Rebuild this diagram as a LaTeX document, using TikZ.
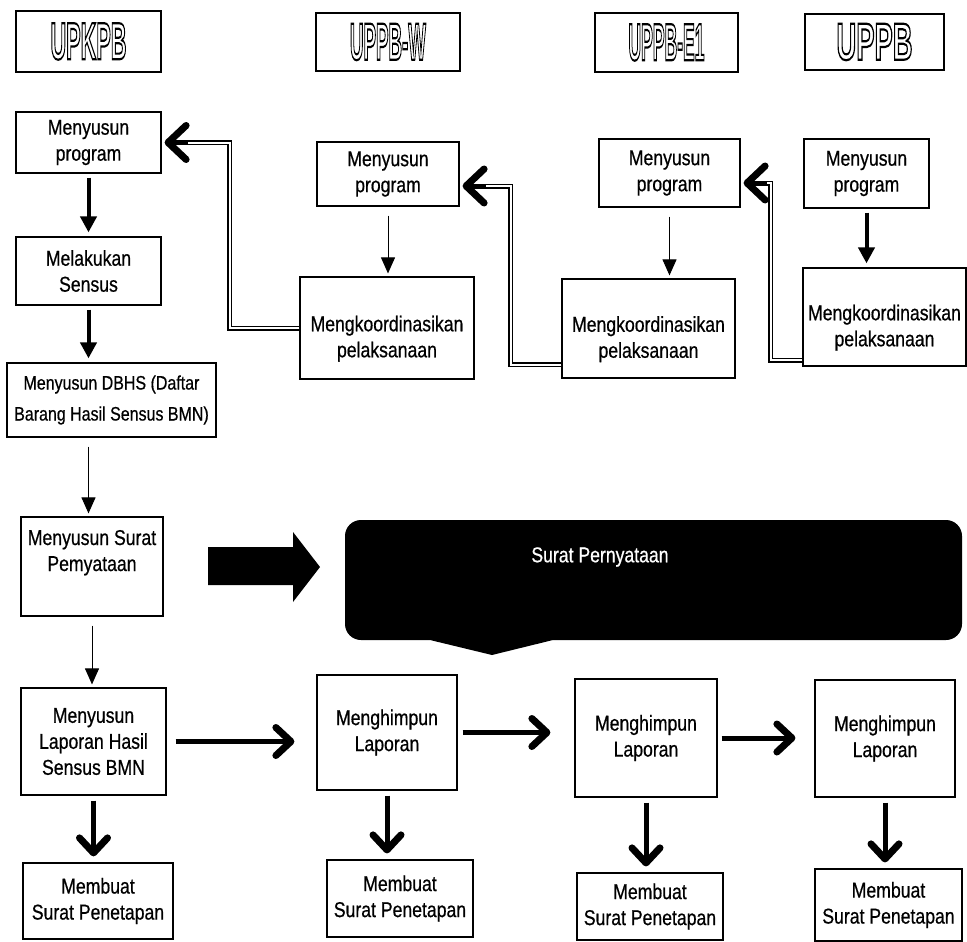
\documentclass[tikz,border=0pt]{standalone}
\usepackage{fontspec}
\setmainfont{Liberation Sans}[FakeStretch=0.82, FakeBold=0.6]
\newfontfamily\hdrfont{Liberation Sans}
\usetikzlibrary{arrows.meta}
% hollow (stroked) letters for the unit headers
\newcommand{\hollow}[1]{\special{pdf:literal 1 Tr 0.9 w}#1\special{pdf:literal 0 Tr}}
\newcommand{\unitname}[1]{\resizebox{76pt}{36pt}{\hdrfont\bfseries\hollow{#1}}}

\begin{document}
\begin{tikzpicture}[x=1pt,y=-1pt,
  box/.style={draw, line width=1.2pt, align=center, inner sep=0pt,
    font=\fontsize{21.5}{26}\selectfont},
  sz/.style 2 args={minimum width=#1pt, minimum height=#2pt},
  thin/.style={line width=1pt, -{Triangle[length=16pt,width=14pt]},
    shorten <=9pt, shorten >=3pt},
  fat/.style={line width=4pt, -{Triangle[length=16pt,width=16pt]},
    shorten <=4pt, shorten >=4pt},
  barb/.style={line width=5pt,
    -{Straight Barb[length=15pt,width=28pt,line width=7pt,round]},
    shorten <=5pt, shorten >=6pt},
  dbl/.style={double, line width=1.5pt, double distance=2pt},
  dblhead/.style={line width=5pt,
    -{Straight Barb[length=18pt,width=34pt,line width=7pt,round]}}]
\useasboundingbox (0,0) rectangle (967,942);

% unit headers
\node[box, sz={145}{61}] (hK) at (88.5,41.5) {\unitname{UPKPB}};
\node[box, sz={144}{58}] (hW) at (388,42) {\unitname{UPPB-W}};
\node[box, sz={143}{59}] (hE) at (666.5,42.5) {\unitname{UPPB-E1}};
\node[box, sz={139}{56}] (hU) at (874.5,42) {\unitname{UPPB}};

% UPKPB column
\node[box, sz={145}{61}] (pK) at (88.5,142.5) {Menyusun\\program};
\node[box, sz={145}{68}] (mS) at (88.5,271) {Melakukan\\Sensus};
\node[box, sz={209}{74}, font=\fontsize{19.5}{31}\selectfont] (dbhs) at (111.5,400)
  {Menyusun DBHS (Daftar\\Barang Hasil Sensus BMN)};
\node[box, sz={142}{99}] (sp) at (92,566.5)
  {Menyusun Surat\\Pemyataan\rule[-32pt]{0pt}{32pt}};
\node[box, sz={145}{107}] (lap) at (93.5,741.5) {Menyusun\\Laporan Hasil\\Sensus BMN};
\node[box, sz={150}{76}] (bK) at (98,901) {Membuat\\Surat Penetapan};

% UPPB-W column
\node[box, sz={142}{64}] (pW) at (388,174) {Menyusun\\program};
\node[box, sz={174}{102}] (mkW) at (387,328)
  {\rule{0pt}{37pt}Mengkoordinasikan\\pelaksanaan};
\node[box, sz={140}{115}] (hmW) at (387,732.5) {Menghimpun\\Laporan};
\node[box, sz={146}{77}] (bW) at (400,898.5) {Membuat\\Surat Penetapan};

% UPPB-E1 column
\node[box, sz={141}{68}] (pE) at (669.5,173) {Menyusun\\program};
\node[box, sz={173}{99}] (mkE) at (648.5,328.5)
  {\rule{0pt}{37pt}Mengkoordinasikan\\pelaksanaan};
\node[box, sz={142}{118}] (hmE) at (646,738) {Menghimpun\\Laporan};
\node[box, sz={146}{67}] (bE) at (650,906.5) {Membuat\\Surat Penetapan};

% UPPB column
\node[box, sz={125}{69}] (pU) at (866.5,173.5) {Menyusun\\program};
\node[box, sz={163}{98}] (mkU) at (884.5,317)
  {\rule{0pt}{37pt}Mengkoordinasikan\\pelaksanaan};
\node[box, sz={140}{117}] (hmU) at (885,738.5) {Menghimpun\\Laporan};
\node[box, sz={147}{72}] (bU) at (888.5,905) {Membuat\\Surat Penetapan};

% statement banner
\fill (430,640) [rounded corners=16pt] -- (345,640) -- (345,520) -- (962,520)
  -- (962,640) [sharp corners] -- (553,640) -- (492,655) -- cycle;
\node[text=white, font=\fontsize{21.5}{26}\selectfont] (callout) at (600,557) {Surat Pernyataan};
\fill (208,547) -- (293,547) -- (293,532) -- (320,567) -- (293,602) -- (293,585)
  -- (208,585) -- cycle;

% flow down the UPKPB column
\draw[fat] (pK) -- (mS);
\draw[fat] (mS.south) -- (mS.south |- dbhs.north);
\draw[thin] (mS.south |- dbhs.south) -- (mS.south |- sp.north);
\draw[thin] (sp.south) -- (sp.south |- lap.north);
\draw[barb] (lap.south) -- (lap.south |- bK.north);

% programmes within units
\draw[thin] (pW.south) -- (pW.south |- mkW.north);
\draw[thin] (pE.south) -- (pE.south |- mkE.north);
\draw[fat] (pU.south) -- (pU.south |- mkU.north);

% coordination back to the unit above
\draw[dbl] (mkW.west) -| ([xshift=68pt]pK.east) -- ([xshift=4pt]pK.east);
\draw[dblhead] ([xshift=26pt]pK.east) -- ([xshift=3pt]pK.east);
\draw[dbl] ([yshift=-36pt]mkE.west) -| ([xshift=51pt,yshift=-12pt]pW.east)
  -- ([xshift=4pt,yshift=-12pt]pW.east);
\draw[dblhead] ([xshift=26pt,yshift=-12pt]pW.east) -- ([xshift=3pt,yshift=-12pt]pW.east);
\draw[dbl] ([yshift=-43pt]mkU.west) -| ([xshift=30pt,yshift=-10pt]pE.east)
  -- ([xshift=4pt,yshift=-10pt]pE.east);
\draw[dblhead] ([xshift=26pt,yshift=-10pt]pE.east) -- ([xshift=3pt,yshift=-10pt]pE.east);

% reports passed on
\draw[barb, shorten <=9pt, shorten >=22pt] (lap.east) -- (lap.east -| hmW.west);
\draw[barb, shorten <=5pt, shorten >=24pt] (hmW.east) -- (hmW.east -| hmE.west);
\draw[barb, shorten <=4pt, shorten >=19pt] (hmE.east) -- (hmE.east -| hmU.west);
\draw[barb] (hmW.south) -- (hmW.south |- bW.north);
\draw[barb] (hmE.south) -- (hmE.south |- bE.north);
\draw[barb] (hmU.south) -- (hmU.south |- bU.north);
\end{tikzpicture}
\end{document}
